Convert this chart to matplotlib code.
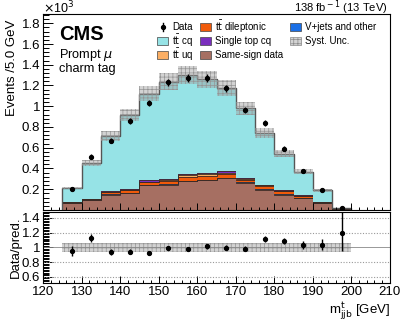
# m_jjb^t distribution, prompt muon / charm tag channel, with data/pred. ratio

import numpy as np
import matplotlib
matplotlib.use('Agg')
import matplotlib.pyplot as plt
from matplotlib.patches import Rectangle
from matplotlib.ticker import MultipleLocator

plt.rcParams['font.family'] = ['Liberation Sans', 'DejaVu Sans']
plt.rcParams['hatch.linewidth'] = 0.5
plt.rcParams['hatch.color'] = '#959595'

# bin edges in GeV
bin_edges = [125, 130, 135, 140, 145, 150, 155, 160, 165, 170, 175, 180, 185, 190, 195, 200]

# stacked predictions (events / bin)
same_sign = [66, 97, 146, 162, 236, 243, 275, 288, 305, 260, 195, 145, 114, 65, 5]
vjets = [3, 3, 4, 4, 5, 5, 5, 5, 5, 5, 4, 4, 3, 2, 1]
tt_dilep = [5, 6, 20, 24, 25, 28, 40, 38, 35, 28, 30, 30, 16, 10, 1]
tt_uq = [2, 2, 5, 6, 8, 10, 15, 14, 14, 8, 8, 6, 4, 2, 0.5]
single_top = [2, 2, 4, 5, 12, 14, 15, 14, 12, 10, 6, 4, 3, 2, 0.5]
tt_cq = [133, 344, 534, 713, 833, 938, 953, 899, 806, 669, 503, 353, 227, 107, 8.8]

# data
data = [200, 512, 668, 859, 1031, 1232, 1274, 1274, 1174, 963, 834, 590, 380, 195, 20]
data_err_lo = [14, 23, 26, 29, 32, 35, 36, 36, 34, 31, 29, 24, 19, 14, 4]
data_err_hi = [14, 23, 26, 29, 32, 35, 36, 36, 34, 31, 29, 24, 19, 14, 6]
syst_rel = [0.065] * 15

edges = np.array(bin_edges)
centers = 0.5 * (edges[:-1] + edges[1:])
scale = 1e-3  # main panel drawn in units of 10^3

col_ss, col_vj, col_dl, col_uq, col_st, col_cq = '#a66f62', '#1a6fe6', '#f05a0a', '#fbae63', '#7a2ebd', '#96e3e6'
unc_face = (0.62, 0.62, 0.62, 0.45)

stack = [(same_sign, col_ss), (vjets, col_vj), (tt_dilep, col_dl),
         (tt_uq, col_uq), (single_top, col_st), (tt_cq, col_cq)]

fig = plt.figure(figsize=(4.07, 3.24), dpi=100)
ax = fig.add_axes([0.106, 0.352, 0.852, 0.605])
ax2 = fig.add_axes([0.106, 0.127, 0.852, 0.219])

bottom = np.zeros(len(centers))
for vals, col in stack:
    top = bottom + np.array(vals)
    ax.stairs(top * scale, edges, baseline=bottom * scale, fill=True, color=col, lw=0)
    ax.stairs(top * scale, edges, baseline=None, color='#3a2a25', lw=0.6)
    bottom = top
total = bottom

# outline of the full stack
ax.stairs(total * scale, edges, baseline=0, color='#555555', lw=1.0)

# systematic band
syst = np.array(syst_rel)
ax.stairs(total * (1 + syst) * scale, edges, baseline=total * (1 - syst) * scale,
          fill=True, facecolor=unc_face, hatch='++++', lw=0)

# data points
data = np.array(data)
ax.errorbar(centers, data * scale, yerr=[np.array(data_err_lo) * scale, np.array(data_err_hi) * scale],
            fmt='o', color='black', ms=2.8, elinewidth=1, capsize=0)

ax.set_xlim(120, 210)
ax.set_ylim(0, 1.89)
ax.yaxis.set_major_locator(MultipleLocator(0.2))
ax.yaxis.set_minor_locator(MultipleLocator(0.04))
ax.xaxis.set_major_locator(MultipleLocator(10))
ax.xaxis.set_minor_locator(MultipleLocator(2))
ax.yaxis.set_major_formatter(lambda v, p: '' if v < 0.1 else '%g' % round(v, 2))
ax.set_xticklabels([])
ax.tick_params(which='both', direction='in', labelsize=9.5, width=0.7, pad=2)
ax.tick_params(which='major', axis='y', length=7)
ax.tick_params(which='minor', axis='y', length=4)
ax.tick_params(which='major', axis='x', length=5)
ax.tick_params(which='minor', axis='x', length=2.5)

# ratio panel
ratio = data / total
ax2.stairs(1 + syst, edges, baseline=1 - syst, fill=True,
           facecolor=unc_face, hatch='++++', lw=0)
for yv in [0.6, 0.8, 1.2, 1.4]:
    ax2.axhline(yv, color='#999999', ls=(0, (1, 1.5)), lw=0.8)
ax2.axhline(1.0, color='#888888', lw=0.6)
ax2.errorbar(centers, ratio, yerr=[np.array(data_err_lo) / total, np.array(data_err_hi) / total],
             fmt='o', color='black', ms=2.8, elinewidth=1, capsize=0)
ax2.set_xlim(120, 210)
ax2.set_ylim(0.52, 1.48)
ax2.xaxis.set_major_locator(MultipleLocator(10))
ax2.xaxis.set_minor_locator(MultipleLocator(2))
ax2.yaxis.set_major_locator(MultipleLocator(0.2))
ax2.yaxis.set_minor_locator(MultipleLocator(0.02))
ax2.yaxis.set_major_formatter(lambda v, p: '%g' % round(v, 2))
ax2.tick_params(which='both', direction='in', labelsize=9.5, width=0.7, pad=2)
ax2.tick_params(which='major', axis='y', length=7)
ax2.tick_params(which='minor', axis='y', length=4)
ax2.tick_params(which='major', axis='x', length=5)
ax2.tick_params(which='minor', axis='x', length=2.5)

for a in (ax, ax2):
    for s in a.spines.values():
        s.set_linewidth(0.8)

# labels and texts
fig.text(0.03, 0.94, 'Events /5.0 GeV', rotation=90, va='top', ha='center', fontsize=9.5)
fig.text(0.038, 0.236, 'Data/pred.', rotation=90, va='center', ha='center', fontsize=9.5)
fig.text(0.958, 0.006, r'm$^{\rm t}_{\rm jjb}$ [GeV]', ha='right', va='bottom', fontsize=9.5)
fig.text(0.106, 1.0, r'$\times$10$^{3}$', ha='left', va='top', fontsize=9)
fig.text(0.953, 0.964, r'138 fb$^{\rm -1}$ (13 TeV)', ha='right', va='baseline', fontsize=8)
ax.text(0.045, 0.944, 'CMS', transform=ax.transAxes, fontsize=14.5, fontweight='bold', va='top')
ax.text(0.045, 0.832, r'Prompt $\mu$', transform=ax.transAxes, fontsize=9.2, va='top')
ax.text(0.045, 0.752, 'charm tag', transform=ax.transAxes, fontsize=9.2, va='top')

# legend, drawn by hand in pixel positions of the figure
W, H = 407.0, 324.0
leg_entries = [
    ('marker', None, 'Data', 157, 27),
    ('box', col_cq, r't$\bar{\rm t}$ cq', 157, 41),
    ('box', col_uq, r't$\bar{\rm t}$ uq', 157, 55),
    ('box', col_dl, r't$\bar{\rm t}$ dileptonic', 200, 27),
    ('box', col_st, 'Single top cq', 200, 41),
    ('box', col_ss, 'Same-sign data', 200, 55),
    ('box', col_vj, 'V+jets and other', 290, 27),
    ('unc', None, 'Syst. Unc.', 290, 41),
]
bw, bh = 11, 8.5
for kind, col, lab, px, py in leg_entries:
    x0, y0 = px / W, 1 - (py + bh / 2) / H
    if kind == 'marker':
        fig.add_artist(plt.Line2D([(px + bw / 2) / W], [1 - py / H], marker='o', ms=2.8, color='black'))
        fig.add_artist(plt.Line2D([(px + bw / 2) / W] * 2, [1 - (py - 4) / H, 1 - (py + 4) / H], color='black', lw=1))
    elif kind == 'unc':
        fig.add_artist(Rectangle((x0, y0), bw / W, bh / H, transform=fig.transFigure,
                                 facecolor=unc_face, hatch='++++', edgecolor='#8a8a8a', lw=0.5))
    else:
        fig.add_artist(Rectangle((x0, y0), bw / W, bh / H, transform=fig.transFigure,
                                 facecolor=col, edgecolor='#444444', lw=0.5))
    fig.text((px + bw + 4) / W, 1 - py / H, lab, ha='left', va='center', fontsize=7.0)

fig.savefig('out.png', dpi=100)
